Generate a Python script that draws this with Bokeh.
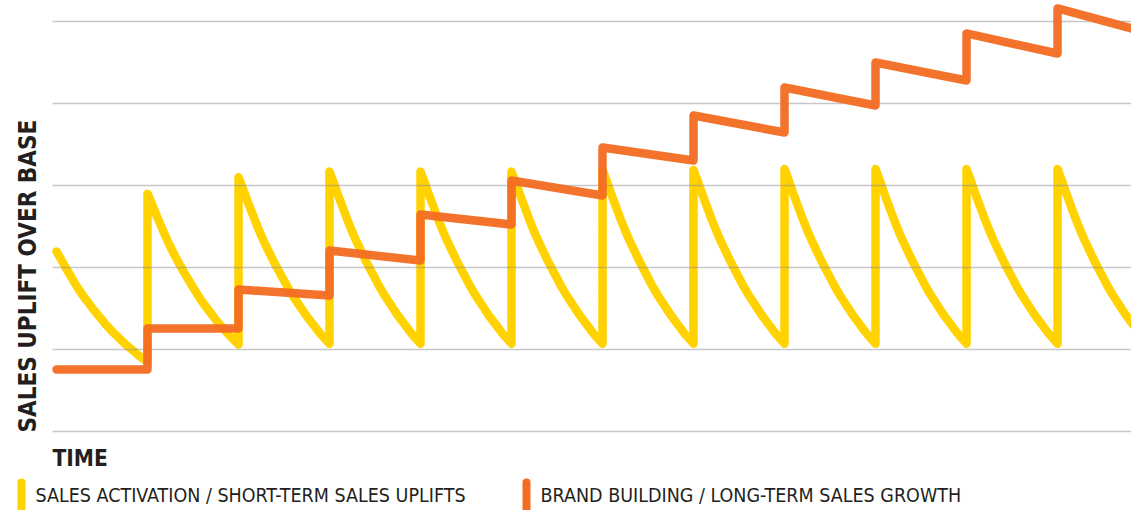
from bokeh.plotting import figure
from bokeh.models import Range1d, Grid, FixedTicker
from bokeh.core.properties import value
from bokeh.embed import file_html
from bokeh.resources import INLINE

# ---------------- data ----------------
# time in "campaign periods", y in gridline units (gridlines at 0..5)
event_t = [1, 2, 3, 4, 5, 6, 7, 8, 9, 10, 11]

# short-term sales activation (yellow sawtooth)
yellow_start_t = 0.0
yellow_start_y = 2.195
yellow_peak = [2.90, 3.10, 3.17, 3.17, 3.17, 3.19, 3.19, 3.20, 3.20, 3.20, 3.20]
yellow_trough = [0.85, 1.06, 1.07, 1.07, 1.07, 1.07, 1.07, 1.07, 1.07, 1.07, 1.07]
yellow_end_t = 12.0
yellow_end_y = 1.07
# shape of one decay (fraction of the period elapsed, fraction of the drop done)
decay_offset = [0.0, 0.05, 0.1, 0.15, 0.2, 0.25, 0.3, 0.35, 0.4, 0.45, 0.5,
                0.55, 0.6, 0.65, 0.7, 0.75, 0.8, 0.85, 0.9, 0.95, 1.0]
decay_share = [0.0, 0.07, 0.145, 0.215, 0.285, 0.35, 0.41, 0.465, 0.52, 0.57, 0.62,
               0.67, 0.715, 0.755, 0.795, 0.835, 0.87, 0.905, 0.94, 0.97, 1.0]

# long-term brand building (orange steps)
orange_start_t = 0.0
orange_start_y = 0.756
orange_before = [0.756, 1.256, 1.659, 2.085, 2.524, 2.878, 3.305, 3.646, 3.976, 4.280, 4.610]
orange_after = [1.256, 1.732, 2.207, 2.646, 3.061, 3.463, 3.854, 4.195, 4.500, 4.854, 5.159]
orange_end_t = 12.0
orange_end_y = 4.86

grid_values = [0, 1, 2, 3, 4, 5]

y_label = "SALES UPLIFT OVER BASE"
x_label = "TIME"
legend_labels = ["SALES ACTIVATION / SHORT-TERM SALES UPLIFTS",
                 "BRAND BUILDING / LONG-TERM SALES GROWTH"]

# ---------------- build series ----------------
seg_start = [(yellow_start_t, yellow_start_y)] + list(zip(event_t, yellow_peak))
seg_end = list(zip(event_t, yellow_trough)) + [(yellow_end_t, yellow_end_y)]
yx, yy = [], []
for (ts, vs), (te, ve) in zip(seg_start, seg_end):
    for o, f in zip(decay_offset, decay_share):
        yx.append(ts + o * (te - ts))
        yy.append(vs - f * (vs - ve))

ox, oy = [orange_start_t], [orange_start_y]
for t, b, a in zip(event_t, orange_before, orange_after):
    ox += [t, t]
    oy += [b, a]
ox.append(orange_end_t)
oy.append(orange_end_y)

YELLOW = "#FFD200"
ORANGE = "#F36C21"
TEXT = "#231F20"
FONT = value("'Liberation Sans Narrow', 'DejaVu Sans Condensed', sans-serif")

X0, X1 = -0.044, 11.813   # plotting area (time)

p = figure(width=1131, height=510, output_backend="svg", toolbar_location=None,
           x_axis_location=None, y_axis_location=None,
           x_range=Range1d(-0.6154, X1), y_range=Range1d(-0.963, 5.256),
           min_border=0)
p.outline_line_color = None
p.background_fill_color = "white"
p.border_fill_color = "white"
for g in p.grid:
    g.visible = False

grid_kw = dict(grid_line_color="#8f8f8f", grid_line_alpha=0.5, grid_line_width=1.5)
if "cross_bounds" in Grid.properties():
    p.add_layout(Grid(dimension=1, ticker=FixedTicker(ticks=grid_values),
                      cross_bounds=(X0, X1), level="underlay", **grid_kw), "center")
else:
    gs = p.segment(x0=[X0] * len(grid_values), y0=grid_values,
                   x1=[X1] * len(grid_values), y1=grid_values,
                   line_color="#8f8f8f", line_alpha=0.5, line_width=1.5)
    gs.level = "underlay"

ry = p.line(yx, yy, line_color=YELLOW, line_width=8.5, line_cap="round",
            line_join="round")
ry.level = "image"
p.line(ox, oy, line_color=ORANGE, line_width=8.5, line_cap="round",
       line_join="round", line_alpha=0.95)

# texts
p.text(x=[-0.3143], y=[-0.012], text=[y_label], angle=1.5708,
       text_font=FONT, text_font_size="24px", text_font_style="bold",
       text_color=TEXT, text_align="left", text_baseline="alphabetic")
p.text(x=[X0], y=[-0.317], text=[x_label],
       text_font=FONT, text_font_size="22.5px", text_font_style="bold",
       text_color=TEXT, text_align="left", text_baseline="alphabetic")
p.text(x=[-0.2308, 5.3187], y=[-0.783, -0.783], text=legend_labels,
       text_font=FONT, text_font_size="19.5px",
       text_color=TEXT, text_align="left", text_baseline="alphabetic")
# legend swatches
p.segment(x0=[-0.3846, 5.1648], y0=[-0.622, -0.622],
          x1=[-0.3846, 5.1648], y1=[-1.1, -1.1],
          line_color=[YELLOW, ORANGE], line_width=8, line_cap="round")

open("out.html", "w").write(file_html(p, INLINE))
